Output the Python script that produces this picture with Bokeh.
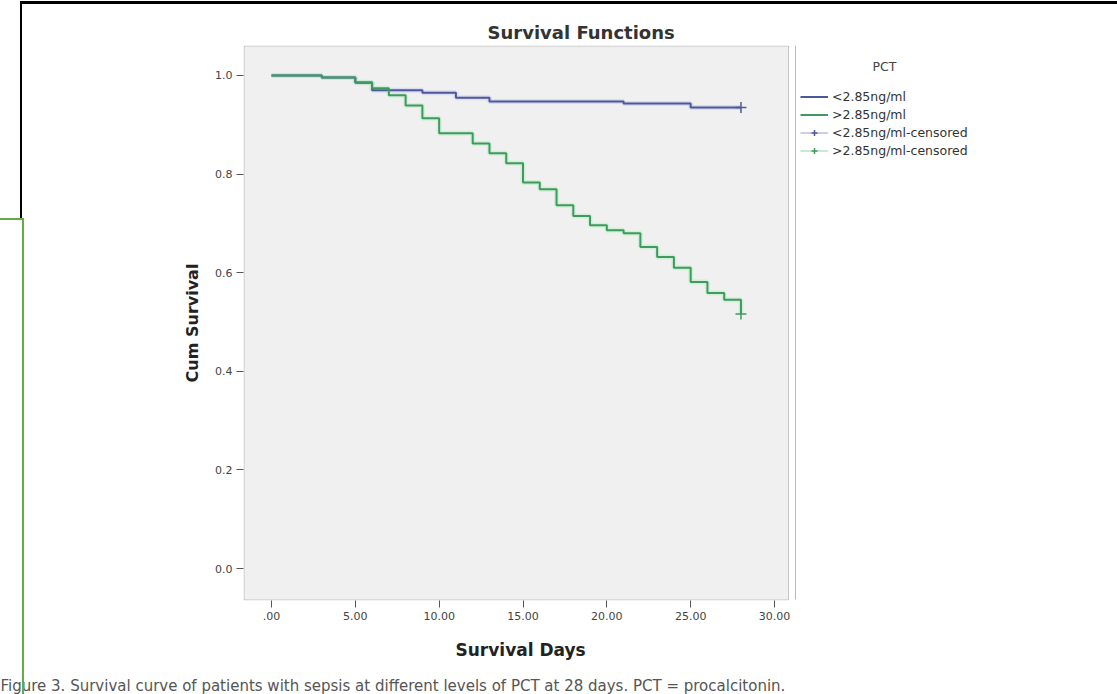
from bokeh.plotting import figure
from bokeh.models import (Range1d, FixedTicker, Label, Legend, LegendItem,
                          BoxAnnotation, Title, InlineStyleSheet)
from bokeh.embed import file_html
from bokeh.resources import INLINE

# ---------------- data ----------------
days_low = [0, 3, 5, 6, 9, 11, 13, 21, 25, 28]
surv_low = [1.0, 0.996, 0.985, 0.970, 0.965, 0.955, 0.947, 0.943, 0.935, 0.935]

days_high = [0, 3, 5, 6, 7, 8, 9, 10, 12, 13, 14, 15, 16, 17, 18, 19, 20,
             21, 22, 23, 24, 25, 26, 27, 28]
surv_high = [1.0, 0.996, 0.986, 0.974, 0.960, 0.939, 0.913, 0.883, 0.862,
             0.842, 0.822, 0.783, 0.769, 0.737, 0.715, 0.696, 0.686, 0.680,
             0.652, 0.632, 0.610, 0.581, 0.559, 0.545, 0.516]

censor_day_low = [28]
censor_surv_low = [0.935]
censor_day_high = [28]
censor_surv_high = [0.516]

x_ticks = [0, 5, 10, 15, 20, 25, 30]
x_tick_labels = [".00", "5.00", "10.00", "15.00", "20.00", "25.00", "30.00"]
y_ticks = [0.0, 0.2, 0.4, 0.6, 0.8, 1.0]
y_tick_labels = ["0.0", "0.2", "0.4", "0.6", "0.8", "1.0"]

group_labels = ["<2.85ng/ml", ">2.85ng/ml",
                "<2.85ng/ml-censored", ">2.85ng/ml-censored"]
legend_title = "PCT"
title_text = "Survival Functions"
x_label = "Survival Days"
y_label = "Cum Survival"
caption_text = ("Figure 3. Survival curve of patients with sepsis at different "
                "levels of PCT at 28 days. PCT = procalcitonin.")

# ---------------- geometry (page pixels) ----------------
W, H = 1117, 694
FL, FR, FT, FB = 243, 1117, 45, 601        # bokeh frame
BOX_L, BOX_R, BOX_T, BOX_B = 243.5, 788, 45.5, 600.5   # SPSS plot box
X0PX, X30PX = 271, 774                     # x = 0 and x = 30
Y1PX, Y0PX = 75, 569                       # y = 1 and y = 0
SX = (X30PX - X0PX) / 30.0
SY = (Y0PX - Y1PX) / 1.0


def dx(px):
    return (px - X0PX) / SX


def dy(py):
    return (Y0PX - py) / SY


BLUE = "#4a5a98"
GREEN = "#3f9a5e"
BLUE_HALO = "#cfcaf2"
GREEN_HALO = "#bdeec9"
FONT = "DejaVu Sans"

css = """
:host::before { content: ""; position: absolute; left: 20px; top: 1px;
  width: 1097px; height: 217px; border-top: 3px solid #000; border-left: 2px solid #000;
  box-sizing: border-box; pointer-events: none; z-index: 5; }
:host::after { content: ""; position: absolute; left: 0px; top: 218px;
  width: 24px; height: 476px; border-top: 2px solid #62ad45; border-right: 2px solid #62ad45;
  box-sizing: border-box; pointer-events: none; z-index: 5; }
"""

p = figure(width=W, height=H,
           x_range=Range1d(dx(FL), dx(FR)), y_range=Range1d(dy(FB), dy(FT)),
           output_backend="svg", toolbar_location=None, title=None,
           min_border_left=FL, min_border_right=W - FR,
           min_border_top=FT, min_border_bottom=H - FB,
           background_fill_color="white", border_fill_color="white",
           outline_line_color=None,
           stylesheets=[InlineStyleSheet(css=css)])
p.xgrid.visible = False
p.ygrid.visible = False

# SPSS plot box
p.add_layout(BoxAnnotation(left=dx(BOX_L), right=dx(BOX_R), top=dy(BOX_T), bottom=dy(BOX_B),
                           fill_color="#f0f0f0", fill_alpha=1, line_color="#555555",
                           line_width=1, level="underlay"))
p.add_layout(BoxAnnotation(left=dx(794.5), right=dx(795.5), top=dy(45), bottom=dy(600),
                           fill_color="#b8b8b8", fill_alpha=1, line_color=None,
                           level="underlay"))

xa = p.xaxis[0]
ya = p.yaxis[0]
xa.ticker = FixedTicker(ticks=x_ticks)
xa.major_label_overrides = dict(zip(x_ticks, x_tick_labels))
ya.ticker = FixedTicker(ticks=y_ticks)
ya.major_label_overrides = dict(zip(y_ticks, y_tick_labels))
for ax in (xa, ya):
    ax.axis_line_color = None
    ax.major_tick_line_color = "#555555"
    ax.major_tick_out = 7
    ax.major_tick_in = 0
    ax.minor_tick_line_color = None
    ax.major_label_text_font = FONT
    ax.major_label_text_font_size = "11px"
    ax.major_label_text_color = "#444444"
    ax.major_label_standoff = 4
ya.axis_label = y_label
ya.axis_label_text_font = FONT
ya.axis_label_text_font_style = "bold"
ya.axis_label_text_font_size = "16px"
ya.axis_label_text_color = "#222222"
ya.axis_label_standoff = 10

# halos
p.step(days_low, surv_low, mode="after", line_color=BLUE_HALO, line_width=5, line_alpha=0.6)
p.step(days_high, surv_high, mode="after", line_color=GREEN_HALO, line_width=5, line_alpha=0.6)
# curves
r_low = p.step(days_low, surv_low, mode="after", line_color=BLUE, line_width=2)
r_high = p.step(days_high, surv_high, mode="after", line_color=GREEN, line_width=2)
c_low = p.scatter(censor_day_low, censor_surv_low, marker="cross", size=11,
                  line_color=BLUE, line_width=1.5)
c_high = p.scatter(censor_day_high, censor_surv_high, marker="cross", size=11,
                   line_color=GREEN, line_width=1.5)
l_low = p.line(censor_day_low, censor_surv_low, line_color="#9a9ad8", line_width=1)
l_high = p.line(censor_day_high, censor_surv_high, line_color="#8fd8a0", line_width=1)

legend = Legend(items=[
    LegendItem(label=group_labels[0], renderers=[r_low]),
    LegendItem(label=group_labels[1], renderers=[r_high]),
    LegendItem(label=group_labels[2], renderers=[l_low, c_low]),
    LegendItem(label=group_labels[3], renderers=[l_high, c_high]),
], location=(557, 442), margin=0, padding=5, spacing=3,
    glyph_width=28, glyph_height=15, label_height=15, label_standoff=4,
    label_text_font=FONT, label_text_font_size="12.5px", label_text_color="#333333",
    border_line_color=None, background_fill_alpha=0)
p.add_layout(legend)

p.add_layout(Label(x=dx(884), y=dy(66), text=legend_title, text_font=FONT,
                   text_font_size="12.5px", text_color="#444444",
                   text_align="center", text_baseline="middle"))

p.add_layout(Title(text=title_text, align="left", offset=487 - FL,
                   text_font=FONT, text_font_size="18px", text_font_style="bold",
                   text_color="#333333", standoff=6), "above")
p.add_layout(Title(text=x_label, align="left", offset=455 - FL,
                   text_font=FONT, text_font_size="17px", text_font_style="bold",
                   text_color="#222222", standoff=30), "below")
p.add_layout(Title(text=caption_text, align="left", offset=-FL,
                   text_font=FONT, text_font_size="15px", text_font_style="normal",
                   text_color="#555555", standoff=0), "below")

open("out.html", "w").write(file_html(p, INLINE))
